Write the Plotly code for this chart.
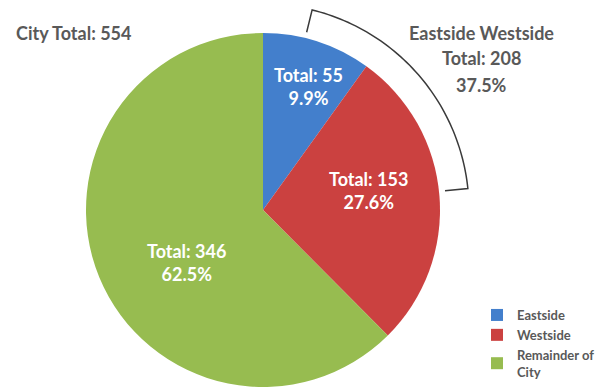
import math
import plotly.graph_objects as go

# ---- data ----
labels = ["Eastside", "Westside", "Remainder of<br>City"]
values = [55, 153, 346]
colors = ["#437fcc", "#cb4140", "#97bc50"]
city_total_label = "City Total: 554"
group_lines = ["Eastside Westside", "Total: 208", "37.5%"]

W, H = 611, 390
total = sum(values)
texts = [f"Total: {v}<br>{v / total * 100:.1f}%" for v in values]

# pie geometry (pixels)
CX, CY, R = 263, 210, 177
# label positions inside slices (pixels), style only
label_pos = [(308, 86), (368, 190), (186, 262)]

fig = go.Figure()
fig.add_trace(go.Pie(
    labels=labels,
    values=values,
    text=texts,
    textinfo="none",
    hovertemplate="%{label}: %{value} (%{percent})<extra></extra>",
    sort=False,
    direction="clockwise",
    rotation=0,
    marker=dict(colors=colors, line=dict(width=0)),
    domain=dict(x=[(CX - R) / W, (CX + R) / W],
                y=[(H - CY - R) / H, (H - CY + R) / H]),
    showlegend=True,
))

# slice labels
for t, (px, py) in zip(texts, label_pos):
    fig.add_annotation(text=t, x=px / W, y=1 - py / H, xref="paper", yref="paper",
                       xanchor="center", yanchor="middle", showarrow=False,
                       font=dict(family="Lato", size=18, color="white", weight="bold"))

# bracket around Eastside + Westside (pixels -> paper)
def to_paper(px, py):
    return px / W, 1 - py / H

BR_OUT, BR_IN = 206, 183
A0, A1 = 13.8, 84.0
pts = [(CX + BR_IN * math.sin(math.radians(A0)), CY - BR_IN * math.cos(math.radians(A0)))]
n = 60
for i in range(n + 1):
    a = A0 + (A1 - A0) * i / n
    pts.append((CX + BR_OUT * math.sin(math.radians(a)), CY - BR_OUT * math.cos(math.radians(a))))
pts.append((CX + BR_IN * math.sin(math.radians(A1)), CY - BR_IN * math.cos(math.radians(A1))))
path = ""
for i, (px, py) in enumerate(pts):
    x, y = to_paper(px, py)
    path += ("M" if i == 0 else " L") + f"{x:.5f},{y:.5f}"
fig.add_shape(type="path", path=path, xref="paper", yref="paper",
              line=dict(color="#3a3a3a", width=1.5))

gray = "#595959"
fig.add_annotation(text=city_total_label, x=14 / W, y=1 - 33 / H, xref="paper", yref="paper",
                   xanchor="left", yanchor="middle", showarrow=False,
                   font=dict(family="Lato", size=18, color=gray, weight="bold"))
for line, py in zip(group_lines, [33, 58, 85]):
    fig.add_annotation(text=line, x=481 / W, y=1 - py / H, xref="paper", yref="paper",
                       xanchor="center", yanchor="middle", showarrow=False,
                       font=dict(family="Lato", size=18, color=gray, weight="bold"))

fig.update_layout(
    width=W, height=H,
    margin=dict(l=0, r=0, t=0, b=0),
    paper_bgcolor="white",
    plot_bgcolor="white",
    legend=dict(x=477 / W, y=1 - 300 / H, xanchor="left", yanchor="top",
                font=dict(family="Lato", size=13, color=gray, weight="bold"),
                bgcolor="rgba(0,0,0,0)", traceorder="normal"),
)

fig.write_html("out.html", config={"displayModeBar": False},
               post_script="document.body.style.margin='0';")
